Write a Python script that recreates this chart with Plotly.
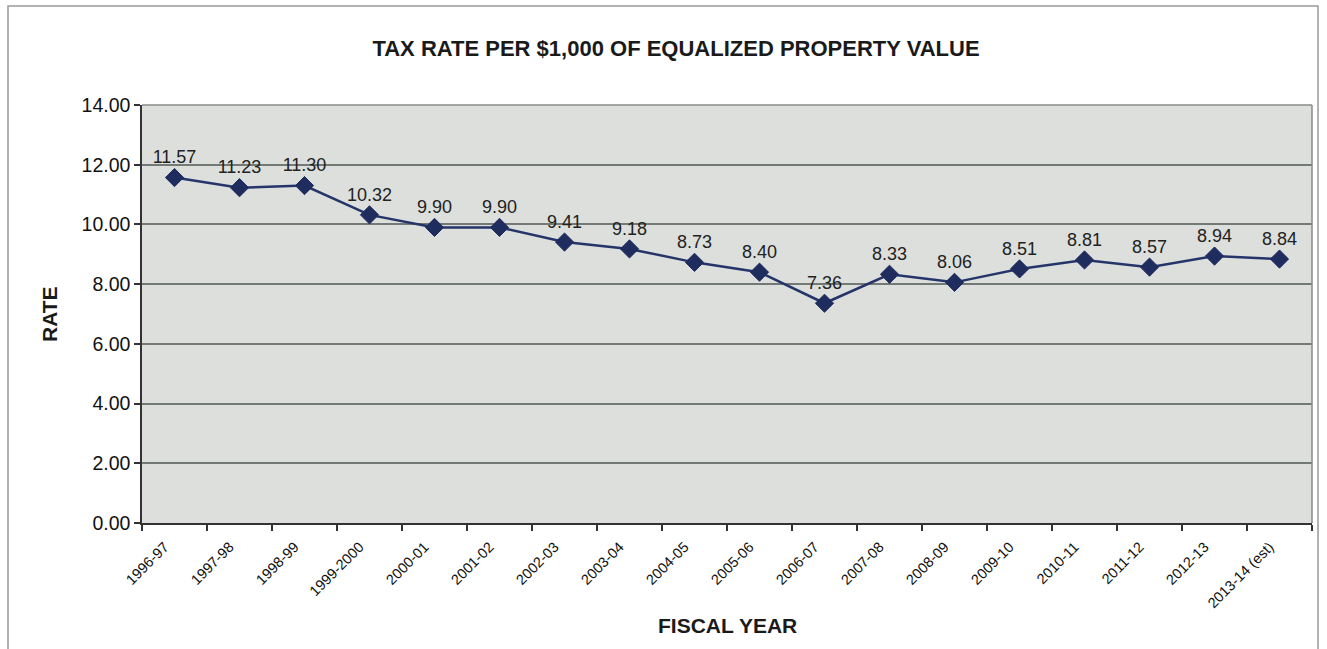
import plotly.graph_objects as go

years = ["1996-97", "1997-98", "1998-99", "1999-2000", "2000-01", "2001-02",
         "2002-03", "2003-04", "2004-05", "2005-06", "2006-07", "2007-08",
         "2008-09", "2009-10", "2010-11", "2011-12", "2012-13", "2013-14 (est)"]
rates = [11.57, 11.23, 11.30, 10.32, 9.90, 9.90, 9.41, 9.18, 8.73, 8.40,
         7.36, 8.33, 8.06, 8.51, 8.81, 8.57, 8.94, 8.84]
y_ticks = [0, 2, 4, 6, 8, 10, 12, 14]

FONT = "Arial, Liberation Sans, sans-serif"
W, H = 1327, 649
L, R, T, B = 142, 15, 105, 126
pw, ph = W - L - R, H - T - B

def px_x(p):
    return (p - L) / pw

def px_y(p):
    return (H - B - p) / ph

fig = go.Figure()
fig.add_trace(go.Scatter(
    x=years, y=rates,
    mode="lines+markers+text",
    text=[f"{v:.2f}" for v in rates],
    textposition="top center",
    textfont=dict(family=FONT, size=18, color="#222222"),
    line=dict(color="#25356a", width=2.5),
    marker=dict(symbol="diamond", size=14, color="#1f2d5e",
                line=dict(color="#1f2d5e", width=1)),
    cliponaxis=False,
    showlegend=False,
))

fig.update_layout(
    width=W, height=H,
    margin=dict(l=L, r=R, t=T, b=B),
    paper_bgcolor="white",
    plot_bgcolor="#dcdfdc",
    font=dict(family=FONT, color="#111111"),
    title=dict(
        text="<b>TAX RATE PER $1,000 OF EQUALIZED PROPERTY VALUE</b>",
        x=676 / W, xanchor="center", y=1 - 48 / H, yanchor="middle",
        font=dict(family=FONT, size=22, color="#1a1a1a"),
    ),
    xaxis=dict(
        type="category",
        tickangle=-45,
        tickfont=dict(family=FONT, size=14.5, color="#111111"),
        ticks="outside", ticklen=6, tickcolor="#333333", tickwidth=1.5,
        tickson="boundaries",
        ticklabelshift=-10, ticklabelstandoff=8,
        showline=True, linecolor="#333333", linewidth=1.5,
        showgrid=False,
        range=[-0.5, len(years) - 0.5],
    ),
    yaxis=dict(
        range=[0, 14],
        tickvals=y_ticks,
        ticktext=[f"{v:.2f}" for v in y_ticks],
        tickfont=dict(family=FONT, size=19.5, color="#111111"),
        ticks="outside", ticklen=6, tickcolor="#333333", tickwidth=1.5,
        showline=True, linecolor="#333333", linewidth=1.5,
        showgrid=True, gridcolor="#737974", gridwidth=1.5,
        zeroline=False,
    ),
    annotations=[
        dict(text="<b>FISCAL YEAR</b>", xref="paper", yref="paper",
             x=0.5, y=px_y(625), xanchor="center", yanchor="middle",
             showarrow=False, font=dict(family=FONT, size=21, color="#1a1a1a")),
        dict(text="<b>RATE</b>", xref="paper", yref="paper",
             x=px_x(49), y=0.5, xanchor="center", yanchor="middle",
             textangle=-90, showarrow=False,
             font=dict(family=FONT, size=21, color="#1a1a1a")),
    ],
    shapes=[
        dict(type="line", xref="paper", yref="paper", x0=0, x1=1, y0=1, y1=1,
             line=dict(color="#8a8a8a", width=1.5)),
        dict(type="line", xref="paper", yref="paper", x0=1, x1=1, y0=0, y1=1,
             line=dict(color="#8a8a8a", width=1.5)),
        dict(type="rect", xref="paper", yref="paper",
             x0=px_x(8), x1=px_x(1318), y0=px_y(660), y1=px_y(6),
             line=dict(color="#9a9a9a", width=1.5), fillcolor="rgba(0,0,0,0)",
             layer="below"),
    ],
)

fig.write_html("out.html")
